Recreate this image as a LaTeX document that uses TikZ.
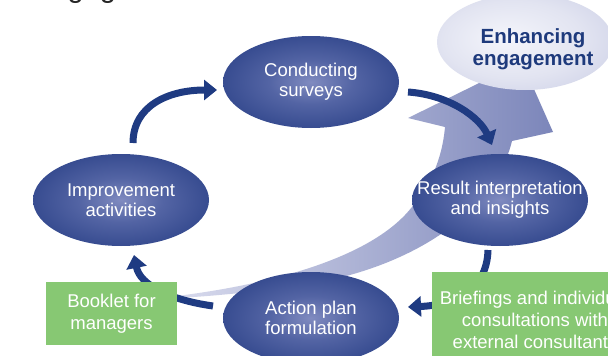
\documentclass[tikz,border=0pt]{standalone}
\usepackage{fontspec}
\setmainfont{Liberation Sans}
\usetikzlibrary{arrows.meta,shapes.geometric}

\definecolor{navy}{HTML}{1F3B82}
\definecolor{leafgreen}{HTML}{87C873}
\definecolor{engtext}{HTML}{1E3A7C}
\definecolor{swooshlight}{HTML}{DCDEEF}
\definecolor{swooshdark}{HTML}{7C86BA}

% stage ovals: bright core fading into deep navy
\pgfdeclareradialshading{stageshade}{\pgfpoint{0bp}{0bp}}{%
  color(0bp)=(rgb,255:red,128;green,139;blue,192);
  color(12bp)=(rgb,255:red,83;green,100;blue,164);
  color(30bp)=(rgb,255:red,45;green,67;blue,137);
  color(50bp)=(rgb,255:red,30;green,54;blue,127)}
% goal oval: pale lavender
\pgfdeclareradialshading{goalshade}{\pgfpoint{-6bp}{2bp}}{%
  color(0bp)=(rgb,255:red,244;green,245;blue,251);
  color(20bp)=(rgb,255:red,226;green,228;blue,241);
  color(42bp)=(rgb,255:red,195;green,199;blue,226);
  color(50bp)=(rgb,255:red,174;green,179;blue,214)}

\tikzset{
  stage/.style={ellipse, shading=stageshade, minimum width=176pt, minimum height=92pt,
    inner xsep=-30pt, inner ysep=0pt, text=white, align=center,
    font=\fontsize{18.5}{20}\selectfont},
  notebox/.style={rectangle, fill=leafgreen, inner sep=0pt, text=white, align=center,
    font=\fontsize{18.5}{22}\selectfont},
  cyclearrow/.style={draw=navy, line width=7pt,
    -{Triangle[width=20pt,length=13pt]}},
}

\begin{document}
\begin{tikzpicture}[x=1pt,y=-1pt]
\useasboundingbox (0,0) rectangle (608,356);
\begin{scope}
\clip (0,0) rectangle (608,356);
\fill[white] (0,0) rectangle (608,356);

% heading above the figure
\node[anchor=base west, inner sep=0pt, text=black!85,
  font=\fontsize{29}{30}\selectfont] (heading) at (32,-2) {Engagement};

% broad rising arrow behind the cycle
\shade[left color=swooshlight, right color=swooshdark]
  (160,298) .. controls (260,287) and (360,262) .. (405,215)
  .. controls (430,188) and (442,160) .. (445,127)
  -- (408,118) -- (522,62) -- (553,132) -- (512,141)
  .. controls (495,210) and (420,260) .. (330,280)
  .. controls (260,293) and (200,297) .. (160,299) -- cycle;

% goal
\node[ellipse, shading=goalshade, minimum width=176pt, minimum height=96pt,
  inner sep=0pt] (goal) at (525,42) {};
\node[text=engtext, align=center, inner sep=0pt,
  font=\fontsize{20.5}{22}\selectfont\bfseries] (goaltext) at (533,49)
  {Enhancing\\engagement};

% cycle connectors
\coordinate (a1s) at (133,143);
\coordinate (a1e) at (217,90);
\coordinate (a2s) at (408,92);
\coordinate (a2e) at (492,145);
\coordinate (a3s) at (488,250);
\coordinate (a3e) at (408,307);
\coordinate (a4s) at (213,306);
\coordinate (a4e) at (134,255);
\draw[cyclearrow] (a1s) .. controls (133,106) and (168,90) .. (a1e);
\draw[cyclearrow] (a2s) .. controls (450,95) and (480,118) .. (a2e);
\draw[cyclearrow] (a3s) .. controls (487,290) and (455,305) .. (a3e);
\draw[cyclearrow] (a4s) .. controls (170,300) and (140,285) .. (a4e);

% cycle stages
\node[stage] (survey) at (311,82) {Conducting\\surveys};
\node[stage] (result) at (500,200) {Result interpretation\\and insights};
\node[stage] (action) at (311,318) {Action plan\\formulation};
\node[stage] (improve) at (121,200) {Improvement\\activities};

% supporting material
\node[notebox, minimum width=131pt, minimum height=63pt] (booklet) at (111.5,313.5)
  {Booklet for\\managers};
\node[notebox, minimum width=206pt, minimum height=96pt] (briefing) at (535,320)
  {Briefings and individual\\consultations with\\external consultants};
\end{scope}
\end{tikzpicture}
\end{document}
